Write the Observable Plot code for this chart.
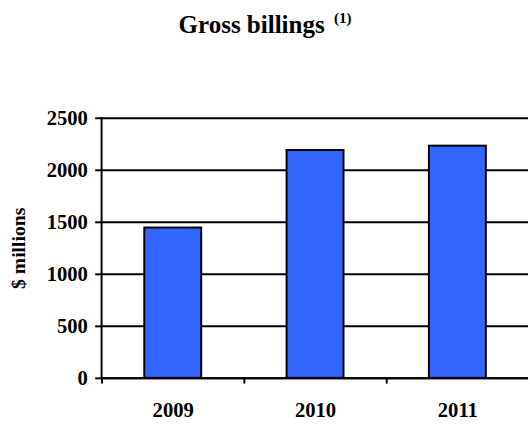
<!DOCTYPE html>
<html>
<head>
<meta charset="utf-8">
<script src="https://cdn.jsdelivr.net/npm/d3@7"></script>
<script src="https://cdn.jsdelivr.net/npm/@observablehq/plot@0.6"></script>
<style>
  html, body { margin: 0; padding: 0; background: #fff; overflow: hidden; width: 530px; height: 430px; position: relative; }
  #title { position: absolute; top: 12px; left: 0; width: 530px; text-align: center; font-family: "Liberation Serif", "Times New Roman", serif; font-weight: bold; font-size: 25px; line-height: 25px; z-index: 2; }
  #title sup { font-size: 15px; vertical-align: 0; position: relative; top: -10px; margin-left: 3px; }
  #chart svg { display: block; }
</style>
</head>
<body>
<div id="title">Gross billings <sup>(1)</sup></div>
<div id="chart"></div>
<script>
const years = ["2009", "2010", "2011"];
const billings = [1445, 2190, 2232];
const yTicks = [0, 500, 1000, 1500, 2000, 2500];
const yLabel = "$ millions";

const data = years.map((y, i) => ({year: y, value: billings[i]}));

const chart = Plot.plot({
  width: 540,
  height: 430,
  marginTop: 120,
  marginBottom: 45,
  marginLeft: 103,
  marginRight: 2,
  style: {fontFamily: "'Liberation Serif', 'Times New Roman', serif", fontWeight: "bold", fontSize: "21px", color: "#000", background: "#fff"},
  x: {domain: years, paddingInner: 0.6, paddingOuter: 0.3, label: null},
  y: {domain: [0, 2500], label: null},
  marks: [
    Plot.gridY(yTicks, {stroke: "#000", strokeOpacity: 1, strokeWidth: 2}),
    Plot.barY(data, {x: "year", y: "value", fill: "#3366ff", stroke: "#000", strokeWidth: 2}),
    Plot.ruleX(years, {x: d => d, dx: -72.5, y1: 0, y2: -55, stroke: "#000", strokeWidth: 2}),
    Plot.frame({anchor: "left", stroke: "#000", strokeWidth: 2}),
    Plot.ruleY([0], {stroke: "#000", strokeWidth: 2}),
    Plot.axisY(yTicks, {tickSize: 6, tickPadding: 8, strokeWidth: 2, fontSize: 21, tickFormat: d => String(d), label: null}),
    Plot.axisX({tickSize: 0, tickPadding: 24, fontSize: 21, label: null}),
    Plot.text([yLabel], {frameAnchor: "left", textAnchor: "middle", lineAnchor: "middle", rotate: -90, dx: -84, fontSize: 20, fontWeight: "bold"})
  ]
});
document.getElementById("chart").appendChild(chart);
</script>
</body>
</html>
